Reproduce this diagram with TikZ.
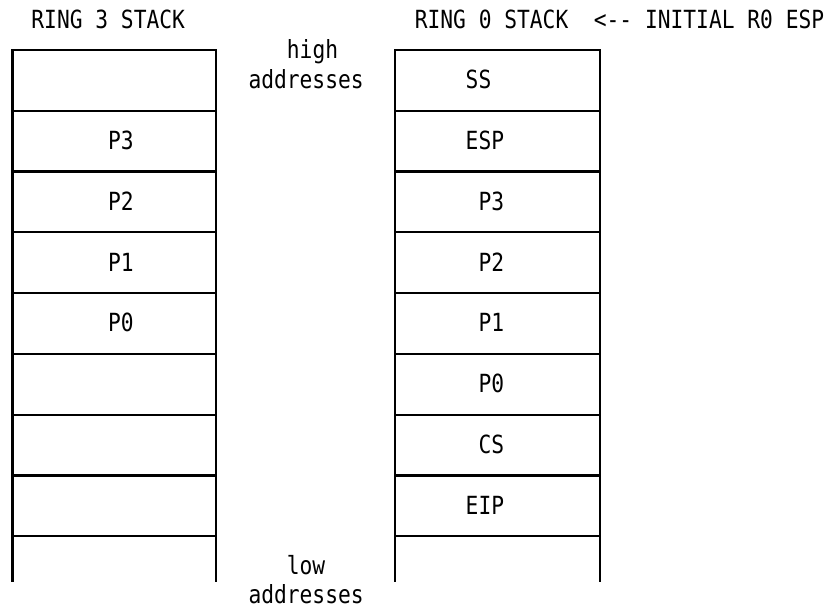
\documentclass[tikz,border=0pt]{standalone}
\usepackage{fontspec}
\newfontfamily\asciifont[FakeStretch=0.85]{DejaVu Sans Mono}
\begin{document}
\begin{tikzpicture}[x=1pt,y=-1pt,
  cellL/.style={draw, line width=2.2pt, minimum width=203.2pt, minimum height=60.8pt,
                inner sep=0pt, outer sep=0pt, anchor=north west},
  cellR/.style={cellL, minimum width=205pt},
  txt/.style={font=\asciifont\fontsize{25}{25}\selectfont, inner sep=0pt, anchor=base},
  openside/.style={line width=2.2pt}]
\useasboundingbox (0,0) rectangle (828,609);
\fill[white] (0,0) rectangle (828,609);

% stack titles
\node[txt] (t3) at (108.2,28.2) {RING 3 STACK};
\node[txt] (t0) at (619.5,28.2) {RING 0 STACK\ \ <-- INITIAL R0 ESP};

% ring 3 stack cells
\foreach \i in {1,...,8}
  \node[cellL] (L\i) at (12.4,{50+60.8*(\i-1)}) {};
\draw[openside] (L8.south west) -- ++(0,45.6) coordinate (Lbl);
\draw[openside] (L8.south east) -- ++(0,45.6) coordinate (Lbr);

% ring 0 stack cells
\foreach \i in {1,...,8}
  \node[cellR] (R\i) at (395,{50+60.8*(\i-1)}) {};
\draw[openside] (R8.south west) -- ++(0,45.6) coordinate (Rbl);
\draw[openside] (R8.south east) -- ++(0,45.6) coordinate (Rbr);

% ring 3 contents
\node[txt] (l3) at (120.9,149.6) {P3};
\node[txt] (l2) at (120.9,210.4) {P2};
\node[txt] (l1) at (120.9,271.2) {P1};
\node[txt] (l0) at (120.9,332.0) {P0};

% ring 0 contents
\node[txt] (rss)  at (478.5,88.8)  {SS};
\node[txt] (resp) at (484.9,149.6) {ESP};
\node[txt] (r3)   at (491.3,210.4) {P3};
\node[txt] (r2)   at (491.3,271.2) {P2};
\node[txt] (r1)   at (491.3,332.0) {P1};
\node[txt] (r0)   at (491.3,392.8) {P0};
\node[txt] (rcs)  at (491.3,453.6) {CS};
\node[txt] (reip) at (484.9,514.4) {EIP};

% address direction labels
\node[txt] (hi1) at (312.5,58.6)  {high};
\node[txt] (hi2) at (306.1,88.8)  {addresses};
\node[txt] (lo1) at (306.1,574.6) {low};
\node[txt] (lo2) at (306.1,603.4) {addresses};
\end{tikzpicture}
\end{document}
